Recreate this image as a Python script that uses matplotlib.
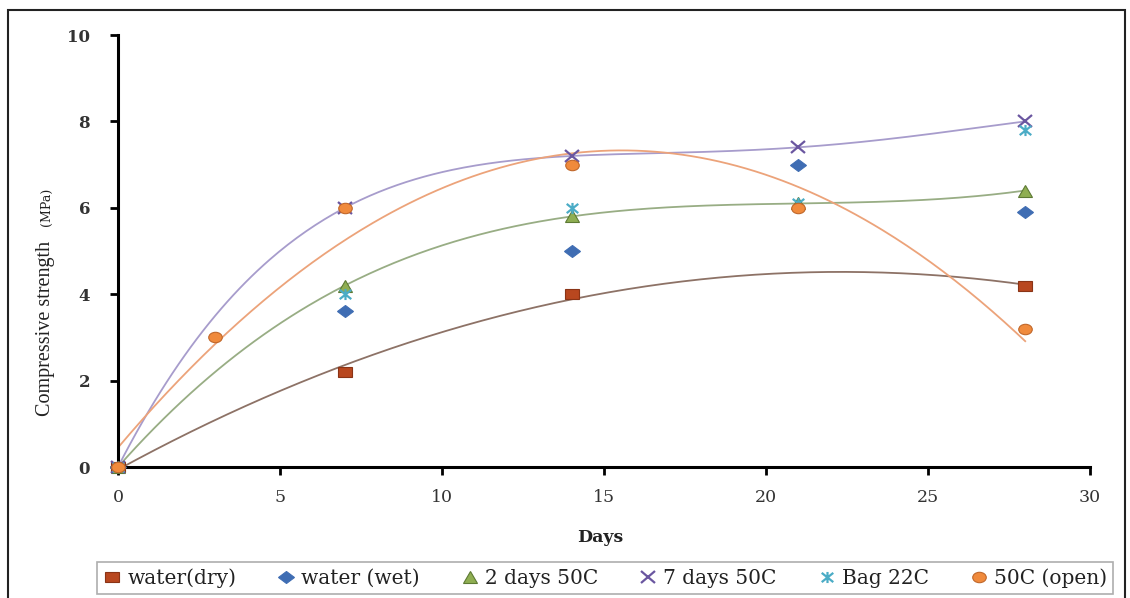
import numpy as np
import matplotlib.pyplot as plt
from matplotlib.markers import MarkerStyle
from matplotlib.path import Path
from matplotlib.patches import Rectangle
from matplotlib.transforms import Affine2D

# --- compressive strength vs curing time (MPa) ---
days_dry = [0, 7, 14, 28]
water_dry = [0.0, 2.2, 4.0, 4.2]

days_wet = [0, 7, 14, 21, 28]
water_wet = [0.0, 3.6, 5.0, 7.0, 5.9]

days_2d = [0, 7, 14, 21, 28]
two_days_50 = [0.0, 4.2, 5.8, 6.1, 6.4]

days_7d = [0, 7, 14, 21, 28]
seven_days_50 = [0.0, 6.0, 7.2, 7.4, 8.0]

days_bag = [0, 7, 14, 21, 28]
bag_22 = [0.0, 4.0, 6.0, 6.1, 7.8]

days_open = [0, 3, 7, 14, 21, 28]
open_50 = [0.0, 3.0, 6.0, 7.0, 6.0, 3.2]

labels = ["water(dry)", "water (wet)", "2 days 50C", "7 days 50C", "Bag 22C", "50C (open)"]

SERIF = ["DejaVu Serif"]

# slightly widened marker shapes
wide = Affine2D().scale(1.25, 1.0)
star_path = Path([(-1, -1), (1, 1), (-1, 1), (1, -1), (0, -1.2), (0, 1.2)],
                 [Path.MOVETO, Path.LINETO, Path.MOVETO, Path.LINETO, Path.MOVETO, Path.LINETO])

series = [
    # x, y, marker, size, face, edge, polynomial trend order, trend colour
    (days_dry, water_dry, MarkerStyle("s", transform=wide), 7.5, "#b8471f", "#8a3416", 2, "#8d7266"),
    (days_wet, water_wet, MarkerStyle("D", transform=Affine2D().scale(1.35, 0.95)), 6, "#3f6db3", "#3f6db3", None, None),
    (days_2d, two_days_50, MarkerStyle("^", transform=wide), 8, "#8fae52", "#5d7a34", 3, "#98ad84"),
    (days_7d, seven_days_50, MarkerStyle("x", transform=wide), 8, "#6a56a0", "#6a56a0", 4, "#a79ccc"),
    (days_bag, bag_22, MarkerStyle(star_path, transform=wide), 8, "#4bacc6", "#4bacc6", None, None),
    (days_open, open_50, MarkerStyle("o", transform=Affine2D().scale(1.3, 1.0)), 7.5, "#f08a3c", "#c0672a", 2, "#eca37a"),
]

fig = plt.figure(figsize=(11.3, 5.98), dpi=100)
ax = fig.add_axes([118 / 1130, 1 - 467 / 598, (1090 - 118) / 1130, (467 - 35) / 598])

handles = []
for (x, y, mk, ms, fc, ec, order, lc), lab in zip(series, labels):
    if order is not None:
        coef = np.polyfit(x, y, order)
        xs = np.linspace(min(x), max(x), 300)
        ax.plot(xs, np.polyval(coef, xs), color=lc, lw=1.3, zorder=2)
    lw = 1.6 if mk.get_marker() == "x" or isinstance(mk.get_marker(), Path) else 0.8
    h = ax.plot(x, y, linestyle="none", marker=mk, markersize=ms, markerfacecolor=fc,
                markeredgecolor=ec, markeredgewidth=lw, zorder=3, label=lab,
                clip_on=False)[0]
    handles.append(h)

ax.set_xlim(0, 30)
ax.set_ylim(0, 10)
ax.set_xticks(range(0, 31, 5))
ax.set_yticks(range(0, 11, 2))
for s in ("top", "right"):
    ax.spines[s].set_visible(False)
for s in ("left", "bottom"):
    ax.spines[s].set_linewidth(2.2)
    ax.spines[s].set_color("black")
ax.tick_params(axis="both", direction="out", length=6, width=2, color="black")
ax.tick_params(axis="x", pad=10)
ax.tick_params(axis="y", pad=14)
for t in ax.get_xticklabels():
    t.set_fontfamily(SERIF)
    t.set_fontsize(12.5)
    t.set_color("#333333")
for t in ax.get_yticklabels():
    t.set_fontfamily(SERIF)
    t.set_fontsize(12)
    t.set_fontweight("bold")
    t.set_color("#333333")

fig.text(600 / 1130, 1 - 537 / 598, "Days", ha="center", va="center",
         fontsize=12.5, fontweight="bold", family=SERIF, color="#222222")
fig.text(46 / 1130, 1 - 328 / 598, "Compressive strength", rotation=90,
         ha="center", va="center", fontsize=14.5, family=["Liberation Serif"], color="#222222")
fig.text(46 / 1130, 1 - 207 / 598, "(MPa)", rotation=90,
         ha="center", va="center", fontsize=9, family=SERIF, color="#222222")

leg = fig.legend(handles=handles, loc="lower left",
                 bbox_to_anchor=(97 / 1130, 1 - 594 / 598, 1016 / 1130, 32 / 598),
                 mode="expand", ncol=6, frameon=True, fancybox=False, handletextpad=0.3,
                 handlelength=0.9, borderpad=0.3, borderaxespad=0,
                 prop={"family": SERIF, "size": 14.5})
leg.get_frame().set_edgecolor("#9a9a9a")
leg.get_frame().set_linewidth(1.2)
for t in leg.get_texts():
    t.set_color("#222222")

# outer frame around the whole chart
fig.patches.append(Rectangle((8 / 1130, -0.05), 1117 / 1130, 1 - 10 / 598 + 0.05,
                             transform=fig.transFigure, fill=False,
                             edgecolor="#222222", linewidth=1.5))

fig.savefig("out.png", dpi=100)
